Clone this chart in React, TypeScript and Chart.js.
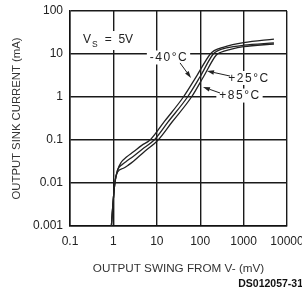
import React, { useEffect, useRef } from "react";
import { Chart, registerables } from "chart.js";

Chart.register(...registerables);

// Axis ticks (decades)
const xTicks = [0.1, 1, 10, 100, 1000, 10000];
const yTicks = [0.001, 0.01, 0.1, 1, 10, 100];

// -40°C curve: output swing (mV) vs sink current (mA)
const swingM40 = [0.9, 0.97, 1.08, 1.25, 1.5, 2, 2.9, 4.5, 7, 15, 41, 80, 171, 210, 350, 1000, 5000];
const sinkM40 = [0.001, 0.003, 0.01, 0.02, 0.03, 0.04, 0.053, 0.075, 0.1, 0.27, 1, 2.9, 10, 12, 14.5, 18.3, 22.3];

// +25°C curve
const swing25 = [0.9, 0.97, 1.08, 1.25, 1.6, 2.0, 2.9, 5, 8.7, 18, 51, 100, 200, 250, 400, 1000, 5000];
const sink25 = [0.001, 0.003, 0.01, 0.02, 0.027, 0.032, 0.042, 0.065, 0.1, 0.26, 1, 3.0, 10, 11.8, 13.8, 16, 18.2];

// +85°C curve
const swing85 = [0.9, 0.97, 1.08, 1.25, 1.7, 2.2, 2.9, 5, 10.7, 22, 63, 120, 235, 300, 500, 1000, 5000];
const sink85 = [0.001, 0.003, 0.01, 0.018, 0.022, 0.026, 0.032, 0.052, 0.1, 0.255, 1, 3.0, 9.5, 11, 12.8, 14.8, 17.1];

// Curve labels (data coords of label centre) and arrows (from -> tip)
const tempLabels = ["-40°C", "+25°C", "+85°C"];
const labelSwing = [19.1, 1330, 826];
const labelSink = [8.3, 2.77, 1.08];
const arrowFromSwing = [34.3, 486, 286];
const arrowFromSink = [6.2, 3.07, 1.24];
const arrowToSwing = [61.4, 143.6, 116];
const arrowToSink = [2.77, 4.03, 1.71];

// Supply annotation anchor (left, baseline)
const supplyAnchorSwing = 0.2;
const supplyAnchorSink = 18;

const pts = (xs: number[], ys: number[]) => xs.map((x, i) => ({ x, y: ys[i] }));

const FONT = "'Liberation Sans', Arial, sans-serif";

const annotationPlugin = {
  id: "annotations",
  afterDraw(chart: any) {
    const { ctx } = chart;
    const xs = chart.scales.x;
    const ys = chart.scales.y;
    ctx.save();

    // V_S = 5V
    const ax = xs.getPixelForValue(supplyAnchorSwing);
    const ay = ys.getPixelForValue(supplyAnchorSink);
    ctx.fillStyle = "#fff";
    ctx.fillRect(ax - 3, ay - 12, 56, 19);
    ctx.fillStyle = "#222";
    ctx.textBaseline = "alphabetic";
    ctx.textAlign = "left";
    ctx.font = `12px ${FONT}`;
    ctx.fillText("V", ax, ay);
    const vw = ctx.measureText("V").width;
    ctx.font = `8.5px ${FONT}`;
    ctx.fillText("S", ax + vw + 1, ay + 3.5);
    ctx.font = `12px ${FONT}`;
    ctx.fillText("  =  5V", ax + vw + 7, ay);

    // temperature labels
    ctx.font = `12px ${FONT}`;
    (ctx as any).letterSpacing = "1.5px";
    tempLabels.forEach((t, i) => {
      const cx = xs.getPixelForValue(labelSwing[i]);
      const cy = ys.getPixelForValue(labelSink[i]);
      const w = ctx.measureText(t).width;
      ctx.fillStyle = "#fff";
      ctx.fillRect(cx - w / 2 - 3, cy - 7, w + 5, 14);
      ctx.fillStyle = "#222";
      ctx.textAlign = "left";
      ctx.textBaseline = "middle";
      ctx.fillText(t, cx - w / 2, cy + 0.5);
    });
    (ctx as any).letterSpacing = "0px";

    // arrows
    ctx.strokeStyle = "#222";
    ctx.fillStyle = "#222";
    ctx.lineWidth = 1;
    tempLabels.forEach((_, i) => {
      const x1 = xs.getPixelForValue(arrowFromSwing[i]);
      const y1 = ys.getPixelForValue(arrowFromSink[i]);
      const x2 = xs.getPixelForValue(arrowToSwing[i]);
      const y2 = ys.getPixelForValue(arrowToSink[i]);
      const ang = Math.atan2(y2 - y1, x2 - x1);
      const len = 7;
      const hw = 2.2;
      const bx = x2 - len * Math.cos(ang);
      const by = y2 - len * Math.sin(ang);
      ctx.beginPath();
      ctx.moveTo(x1, y1);
      ctx.lineTo(bx, by);
      ctx.stroke();
      ctx.beginPath();
      ctx.moveTo(x2, y2);
      ctx.lineTo(bx + hw * Math.sin(ang), by - hw * Math.cos(ang));
      ctx.lineTo(bx - hw * Math.sin(ang), by + hw * Math.cos(ang));
      ctx.closePath();
      ctx.fill();
    });

    // figure code
    ctx.font = `bold 10.5px ${FONT}`;
    ctx.textAlign = "right";
    ctx.textBaseline = "alphabetic";
    ctx.fillStyle = "#111";
    ctx.fillText("DS012057-31", chart.width + 1, 287);
    ctx.restore();
  },
};

export default function App() {
  const ref = useRef<HTMLCanvasElement | null>(null);

  useEffect(() => {
    if (!ref.current) return;
    const lineStyle = {
      borderColor: "#222",
      borderWidth: 1.3,
      pointRadius: 0,
      fill: false,
      cubicInterpolationMode: "monotone" as const,
    };
    const chart = new Chart(ref.current, {
      type: "line",
      data: {
        datasets: [
          { label: "-40°C", data: pts(swingM40, sinkM40), ...lineStyle },
          { label: "+25°C", data: pts(swing25, sink25), ...lineStyle },
          { label: "+85°C", data: pts(swing85, sink85), ...lineStyle },
        ],
      },
      options: {
        animation: false,
        responsive: false,
        devicePixelRatio: 1,
        layout: { padding: { top: 11, right: 15, left: 0, bottom: 0 } },
        plugins: { legend: { display: false }, tooltip: { enabled: false } },
        scales: {
          x: {
            type: "logarithmic",
            min: 0.1,
            max: 10000,
            afterBuildTicks: (s: any) => {
              s.ticks = xTicks.map((v) => ({ value: v }));
            },
            afterFit: (s: any) => {
              s.height = 67;
              s.paddingLeft = 0;
              s.paddingRight = 0;
            },
            ticks: {
              callback: (v: any) => String(v),
              color: "#222",
              font: { family: FONT, size: 12 },
              padding: 8,
              maxRotation: 0,
              autoSkip: false,
            },
            grid: { color: "#1a1a1a", lineWidth: 1.4, drawTicks: false },
            border: { color: "#111", width: 1.5 },
            title: {
              display: true,
              text: "OUTPUT SWING FROM V- (mV)",
              color: "#333",
              font: { family: FONT, size: 11.7 },
              padding: { top: 0, bottom: 17.5 },
            },
          },
          y: {
            type: "logarithmic",
            min: 0.001,
            max: 100,
            afterBuildTicks: (s: any) => {
              s.ticks = yTicks.map((v) => ({ value: v }));
            },
            afterFit: (s: any) => {
              s.width = 70;
              s.paddingTop = 0;
              s.paddingBottom = 0;
            },
            ticks: {
              callback: (v: any) => String(v),
              color: "#222",
              font: { family: FONT, size: 12 },
              padding: 7,
              autoSkip: false,
            },
            grid: { color: "#1a1a1a", lineWidth: 1.4, drawTicks: false },
            border: { color: "#111", width: 1.5 },
            title: {
              display: true,
              text: "OUTPUT SINK CURRENT (mA)",
              color: "#333",
              font: { family: FONT, size: 11.3 },
              padding: { top: 10, bottom: 0 },
            },
          },
        },
      },
      plugins: [annotationPlugin],
    });
    return () => chart.destroy();
  }, []);

  return (
    <div style={{ position: "absolute", left: 0, top: 0, width: 302, height: 293, background: "#fff" }}>
      <canvas ref={ref} width={302} height={293} style={{ display: "block" }} />
    </div>
  );
}
